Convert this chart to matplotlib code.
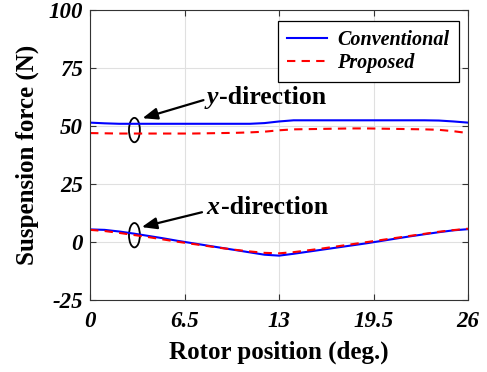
import matplotlib.pyplot as plt
import numpy as np
from matplotlib.patches import Ellipse

plt.rcParams["font.family"] = ["Liberation Serif", "DejaVu Serif"]
plt.rcParams["axes.unicode_minus"] = False

# rotor position (deg.)
position = np.arange(0, 27)

conv_y = [51.5, 51.2, 51.0, 51.0, 51.0, 51.0, 51.0, 51.0, 51.0, 51.0, 51.0, 51.0, 51.3, 52.0,
          52.5, 52.5, 52.5, 52.5, 52.5, 52.5, 52.5, 52.5, 52.5, 52.5, 52.4, 52.0, 51.5]
prop_y = [47.0, 46.9, 46.8, 46.8, 46.8, 46.8, 46.8, 46.8, 46.9, 47.0, 47.1, 47.3, 47.6, 48.2,
          48.6, 48.7, 48.8, 48.9, 49.0, 49.0, 48.9, 48.8, 48.7, 48.6, 48.4, 47.8, 47.0]
conv_x = [5.5, 5.3, 4.6, 3.7, 2.7, 1.7, 0.6, -0.4, -1.4, -2.4, -3.4, -4.4, -5.4, -5.8,
          -5.0, -4.1, -3.2, -2.3, -1.4, -0.5, 0.5, 1.5, 2.5, 3.4, 4.3, 5.1, 5.6]
prop_x = [5.3, 4.8, 4.0, 3.1, 2.2, 1.2, 0.2, -0.7, -1.6, -2.5, -3.3, -4.0, -4.6, -4.8,
          -4.3, -3.5, -2.7, -1.8, -0.9, 0.0, 0.9, 1.8, 2.7, 3.6, 4.5, 5.2, 5.8]

x_ticks = [0, 6.5, 13, 19.5, 26]
x_tick_labels = ["0", "6.5", "13", "19.5", "26"]
y_ticks = [-25, 0, 25, 50, 75, 100]

fig = plt.figure(figsize=(4.87, 3.72), dpi=100)
ax = fig.add_axes([0.185, 0.193, 0.776, 0.780])

ax.plot(position, conv_y, color="#0000ff", linewidth=1.5, label="Conventional")
ax.plot(position, prop_y, color="#ff0000", linewidth=1.5, linestyle=(0, (4, 3)), label="Proposed")
ax.plot(position, conv_x, color="#0000ff", linewidth=1.5)
ax.plot(position, prop_x, color="#ff0000", linewidth=1.5, linestyle=(0, (4, 3)))

ax.set_xlim(0, 26)
ax.set_ylim(-25, 100)
ax.set_xticks(x_ticks)
ax.set_xticklabels(x_tick_labels)
ax.set_yticks(y_ticks)
ax.grid(True, color="#e0e0e0", linewidth=0.8)
ax.set_axisbelow(True)
ax.tick_params(direction="in", length=4, labelsize=16.5, color="#333333",
               top=True, right=True)
ax.tick_params(axis="x", pad=8)
ax.tick_params(axis="y", pad=5)
for lab in ax.get_xticklabels() + ax.get_yticklabels():
    lab.set_fontstyle("italic")
    lab.set_fontweight("bold")
for sp in ax.spines.values():
    sp.set_color("#333333")
    sp.set_linewidth(0.8)

ax.set_xlabel("Rotor position (deg.)", fontsize=18, fontweight="bold", labelpad=6)
ax.set_ylabel("Suspension force (N)", fontsize=18, fontweight="bold", labelpad=7)

leg = ax.legend(loc="upper right", bbox_to_anchor=(0.975, 0.962), borderaxespad=0,
                fancybox=False, edgecolor="black", framealpha=1, handlelength=2.0,
                handletextpad=0.5, prop={"size": 14.5, "style": "italic", "weight": "bold"},
                borderpad=0.45, labelspacing=0.15)
leg.get_frame().set_linewidth(0.9)

# annotations: ellipse marks, arrows, labels
marks = [
    # ellipse y, arrow tip, arrow tail, text y, axis letter
    (48.3, (3.6, 53.4), (7.8, 61.2), 62.5, "y"),
    (3.0, (3.55, 6.5), (7.7, 12.9), 14.8, "x"),
]
for cy, tip, tail, ty, letter in marks:
    ax.add_patch(Ellipse((3.05, cy), width=0.75, height=10.5, fill=False,
                         edgecolor="black", linewidth=1.3))
    ax.annotate("", xy=tip, xytext=tail,
                arrowprops=dict(arrowstyle="-|>,head_length=0.9,head_width=0.35",
                                color="black", linewidth=1.6, shrinkA=0, shrinkB=0))
    t = ax.text(8.0, ty, letter, fontsize=18.5, fontweight="bold", fontstyle="italic",
                va="center", ha="left")
    ax.annotate("-direction", xy=(1, 0.5), xycoords=t, xytext=(1, 0),
                textcoords="offset points", fontsize=18.5, fontweight="bold",
                va="center", ha="left")

fig.savefig("out.png", dpi=100)
